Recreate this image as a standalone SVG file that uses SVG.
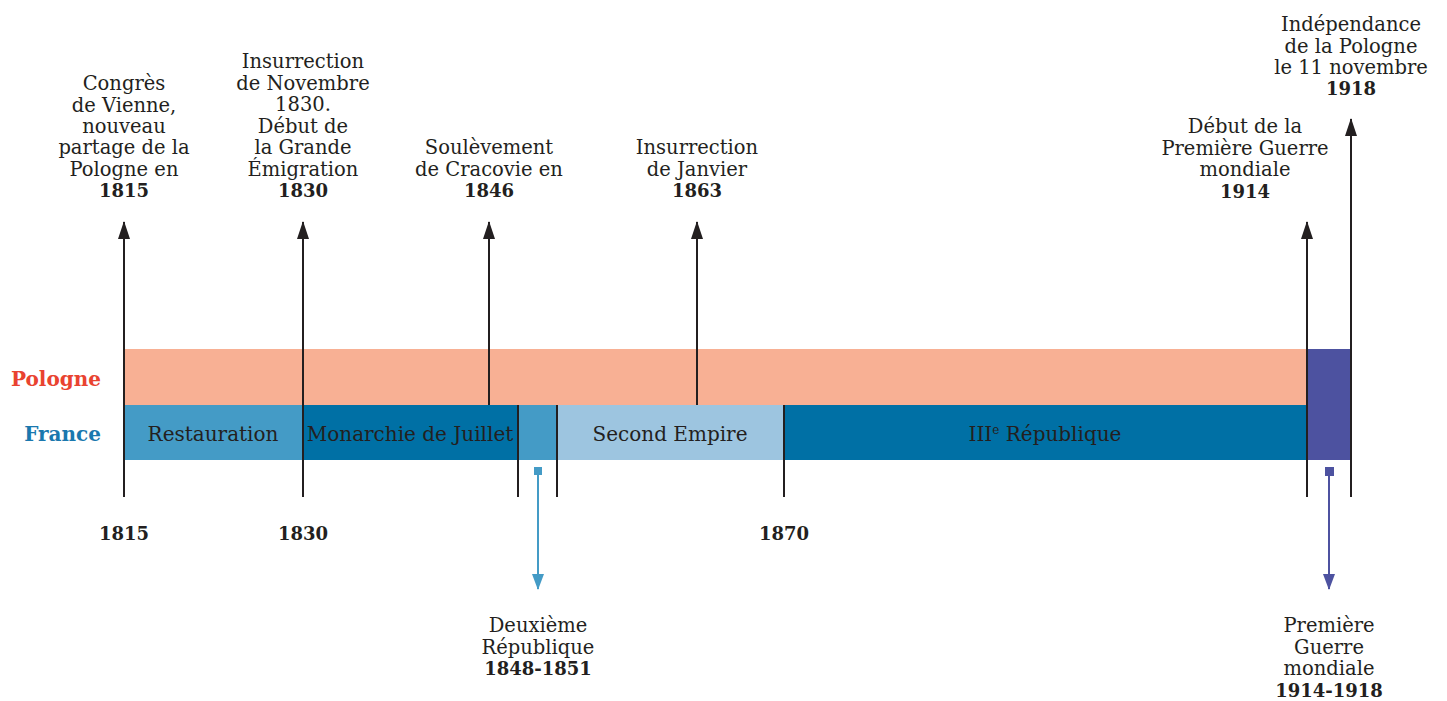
<svg xmlns="http://www.w3.org/2000/svg" width="1447" height="701" viewBox="0 0 1447 701">
<style>
text{font-family:"DejaVu Serif","Liberation Serif",serif;fill:#231F20;text-anchor:middle}
.t{font-size:19.5px}
.b{font-size:18px;font-weight:bold}
.bar{font-size:20px}
.lbl{font-size:20px;font-weight:bold;text-anchor:end}
.k{stroke:#231F20;stroke-width:2;fill:none}
</style>
<defs>
<marker id="ak" markerUnits="userSpaceOnUse" markerWidth="18" markerHeight="12" viewBox="0 0 18 12" refX="17" refY="6" orient="auto"><path d="M0 0 L18 6 L0 12 Z" fill="#231F20"/></marker>
<marker id="ab" markerUnits="userSpaceOnUse" markerWidth="16" markerHeight="12" viewBox="0 0 16 12" refX="15" refY="6" orient="auto"><path d="M0 0 L16 6 L0 12 Z" fill="#449BC6"/></marker>
<marker id="ap" markerUnits="userSpaceOnUse" markerWidth="16" markerHeight="12" viewBox="0 0 16 12" refX="15" refY="6" orient="auto"><path d="M0 0 L16 6 L0 12 Z" fill="#4D52A0"/></marker>
</defs>
<g id="bars">
<rect x="124" y="349" width="1183" height="56" fill="#F8B094"/>
<rect x="1307" y="349" width="44" height="111" fill="#4D52A0"/>
<rect x="124" y="405" width="179" height="55" fill="#449BC6"/>
<rect x="303" y="405" width="215" height="55" fill="#0070A5"/>
<rect x="518" y="405" width="39" height="55" fill="#449BC6"/>
<rect x="557" y="405" width="227" height="55" fill="#9DC5E0"/>
<rect x="784" y="405" width="523" height="55" fill="#0070A5"/>
</g>
<g id="rowlabels">
<text class="lbl" x="101" y="386" style="fill:#E94330">Pologne</text>
<text class="lbl" x="101" y="441" style="fill:#1A78AE">France</text>
</g>
<g id="periods">
<text class="bar" x="213" y="441">Restauration</text>
<text class="bar" x="410" y="441">Monarchie de Juillet</text>
<text class="bar" x="670" y="441">Second Empire</text>
<text class="bar" x="1045" y="441">III<tspan font-size="12" dy="-7">e</tspan><tspan dy="7"> République</tspan></text>
</g>
<g id="connectors">
<line class="k" x1="124" y1="497" x2="124" y2="222" marker-end="url(#ak)"/>
<line class="k" x1="303" y1="497" x2="303" y2="222" marker-end="url(#ak)"/>
<line class="k" x1="489" y1="405" x2="489" y2="222" marker-end="url(#ak)"/>
<line class="k" x1="697" y1="405" x2="697" y2="222" marker-end="url(#ak)"/>
<line class="k" x1="1307" y1="497" x2="1307" y2="222" marker-end="url(#ak)"/>
<line class="k" x1="1351" y1="497" x2="1351" y2="119" marker-end="url(#ak)"/>
<line class="k" x1="518" y1="405" x2="518" y2="497"/>
<line class="k" x1="557" y1="405" x2="557" y2="497"/>
<line class="k" x1="784" y1="405" x2="784" y2="497"/>
<rect x="534" y="467" width="8" height="8" fill="#449BC6"/>
<line x1="538" y1="475" x2="538" y2="589" stroke="#449BC6" stroke-width="2" marker-end="url(#ab)"/>
<rect x="1325" y="467" width="9" height="9" fill="#4D52A0"/>
<line x1="1329" y1="476" x2="1329" y2="589" stroke="#4D52A0" stroke-width="2" marker-end="url(#ap)"/>
</g>
<g id="years">
<text class="b" x="124" y="540">1815</text>
<text class="b" x="303" y="540">1830</text>
<text class="b" x="784" y="540">1870</text>
</g>
<g id="e1815">
<text class="t" x="124" y="90">Congrès</text>
<text class="t" x="124" y="112">de Vienne,</text>
<text class="t" x="124" y="133">nouveau</text>
<text class="t" x="124" y="154">partage de la</text>
<text class="t" x="124" y="176">Pologne en</text>
<text class="b" x="124" y="197">1815</text>
</g>
<g id="e1830">
<text class="t" x="303" y="68">Insurrection</text>
<text class="t" x="303" y="90">de Novembre</text>
<text class="t" x="303" y="111">1830.</text>
<text class="t" x="303" y="133">Début de</text>
<text class="t" x="303" y="154">la Grande</text>
<text class="t" x="303" y="176">Émigration</text>
<text class="b" x="303" y="197">1830</text>
</g>
<g id="e1846">
<text class="t" x="489" y="154">Soulèvement</text>
<text class="t" x="489" y="176">de Cracovie en</text>
<text class="b" x="489" y="197">1846</text>
</g>
<g id="e1863">
<text class="t" x="697" y="154">Insurrection</text>
<text class="t" x="697" y="176">de Janvier</text>
<text class="b" x="697" y="197">1863</text>
</g>
<g id="e1914">
<text class="t" x="1245" y="133">Début de la</text>
<text class="t" x="1245" y="155">Première Guerre</text>
<text class="t" x="1245" y="176">mondiale</text>
<text class="b" x="1245" y="198">1914</text>
</g>
<g id="e1918">
<text class="t" x="1351" y="31">Indépendance</text>
<text class="t" x="1351" y="53">de la Pologne</text>
<text class="t" x="1351" y="74">le 11 novembre</text>
<text class="b" x="1351" y="95">1918</text>
</g>
<g id="deuxieme">
<text class="t" x="538" y="632">Deuxième</text>
<text class="t" x="538" y="654">République</text>
<text class="b" x="538" y="675">1848-1851</text>
</g>
<g id="premiere">
<text class="t" x="1329" y="632">Première</text>
<text class="t" x="1329" y="654">Guerre</text>
<text class="t" x="1329" y="675">mondiale</text>
<text class="b" x="1329" y="697">1914-1918</text>
</g>
</svg>
